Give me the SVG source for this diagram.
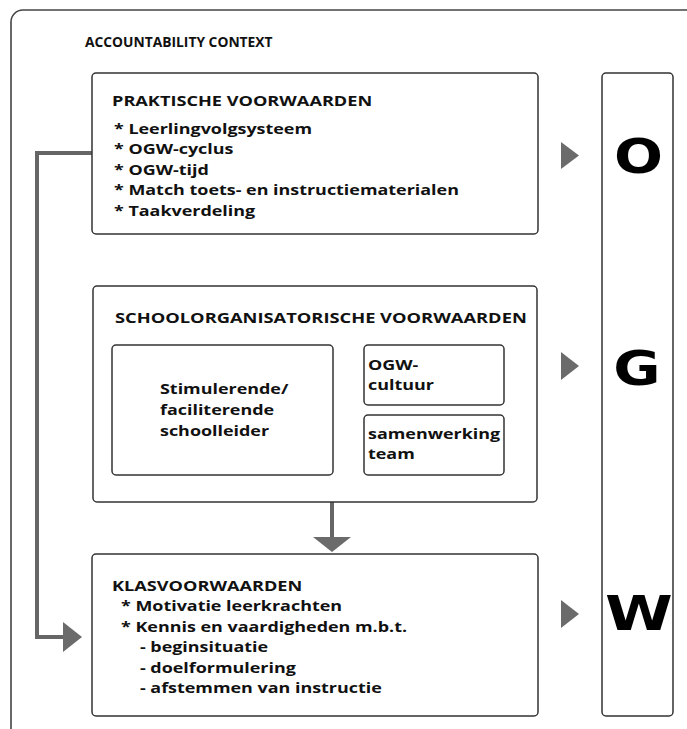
<svg xmlns="http://www.w3.org/2000/svg" width="687" height="729" viewBox="0 0 687 729">
  <style>
    .box { fill: #fff; stroke: #333; stroke-width: 1.5; }
    .t { font-family: "Open Sans", "Liberation Sans", sans-serif; font-weight: bold; font-size: 14.7px; fill: #111; }
    .ctx { font-size: 13.8px; }
    .big { font-family: "DejaVu Sans", "Open Sans", sans-serif; font-weight: bold; font-size: 48px; fill: #000; }
    .tri { fill: #6b6b6b; }
    .line { fill: none; stroke: #666; stroke-width: 4; }
  </style>

  <!-- outer context frame -->
  <g id="context">
    <rect x="11" y="10" width="700" height="740" rx="12" fill="#fff" stroke="#444" stroke-width="1.6"/>
    <text class="t ctx" x="85" y="47">ACCOUNTABILITY CONTEXT</text>
  </g>

  <!-- connectors -->
  <g id="connectors">
    <polyline class="line" points="92,153 37,153 37,637 64,637"/>
    <polygon class="tri" points="63,622 82,637 63,652"/>
    <line class="line" x1="332" y1="502" x2="332" y2="538"/>
    <polygon class="tri" points="313,537 351,537 332,552"/>
    <polygon class="tri" points="342,362 360,375 342,388"/>
    <polygon class="tri" points="342,427 360,440 342,453"/>
    <polygon class="tri" points="427,405 440,405 433.5,411"/>
    <polygon class="tri" points="561,142 579,155.5 561,169"/>
    <polygon class="tri" points="561,352 579,366 561,380"/>
    <polygon class="tri" points="561,600 579,614 561,628"/>
  </g>

  <!-- body text is set in a horizontally widened face: translate to the left edge, then scale x -->
  <g id="praktische">
    <rect class="box" x="92" y="73" width="446" height="161" rx="4"/>
    <text class="t" transform="translate(112,0) scale(1.235,1)" x="0" y="106">PRAKTISCHE VOORWAARDEN</text>
    <text class="t" transform="translate(114,0) scale(1.22,1)">
      <tspan x="0" y="134">* Leerlingvolgsysteem</tspan>
      <tspan x="0" y="154.5">* OGW-cyclus</tspan>
      <tspan x="0" y="175">* OGW-tijd</tspan>
      <tspan x="0" y="195.5">* Match toets- en instructiematerialen</tspan>
      <tspan x="0" y="216">* Taakverdeling</tspan>
    </text>
  </g>

  <g id="schoolorganisatorisch">
    <rect class="box" x="93" y="286" width="444" height="216" rx="4"/>
    <text class="t" transform="translate(115,0) scale(1.245,1)" x="0" y="323">SCHOOLORGANISATORISCHE VOORWAARDEN</text>
  </g>

  <g id="schoolleider">
    <rect class="box" x="112" y="345" width="221" height="130" rx="4"/>
    <text class="t" transform="translate(160,0) scale(1.22,1)">
      <tspan x="0" y="394">Stimulerende/</tspan>
      <tspan x="0" y="415">faciliterende</tspan>
      <tspan x="0" y="436">schoolleider</tspan>
    </text>
  </g>

  <g id="ogw-cultuur">
    <rect class="box" x="364" y="345" width="140" height="60" rx="4"/>
    <text class="t" transform="translate(368,0) scale(1.22,1)">
      <tspan x="0" y="370">OGW-</tspan>
      <tspan x="0" y="390">cultuur</tspan>
    </text>
  </g>

  <g id="samenwerking">
    <rect class="box" x="364" y="415" width="140" height="60" rx="4"/>
    <text class="t" transform="translate(368,0) scale(1.22,1)">
      <tspan x="0" y="439">samenwerking</tspan>
      <tspan x="0" y="459">team</tspan>
    </text>
  </g>

  <g id="klas">
    <rect class="box" x="92" y="554" width="446" height="162" rx="4"/>
    <text class="t" transform="translate(112,0) scale(1.235,1)" x="0" y="591">KLASVOORWAARDEN</text>
    <text class="t" transform="translate(121,0) scale(1.22,1)">
      <tspan x="0" y="611.5">* Motivatie leerkrachten</tspan>
      <tspan x="0" y="632">* Kennis en vaardigheden m.b.t.</tspan>
      <tspan x="15.5" y="652.5">- beginsituatie</tspan>
      <tspan x="15.5" y="673">- doelformulering</tspan>
      <tspan x="15.5" y="693.5">- afstemmen van instructie</tspan>
    </text>
  </g>

  <g id="ogw-column">
    <rect class="box" x="602" y="73" width="71" height="643" rx="4"/>
    <text class="big" text-anchor="middle" transform="translate(638.5,173) scale(1.2,1)">O</text>
    <text class="big" text-anchor="middle" transform="translate(637,385) scale(1.2,1)">G</text>
    <text class="big" text-anchor="middle" transform="translate(639,630) scale(1.28,1)">W</text>
  </g>
</svg>
